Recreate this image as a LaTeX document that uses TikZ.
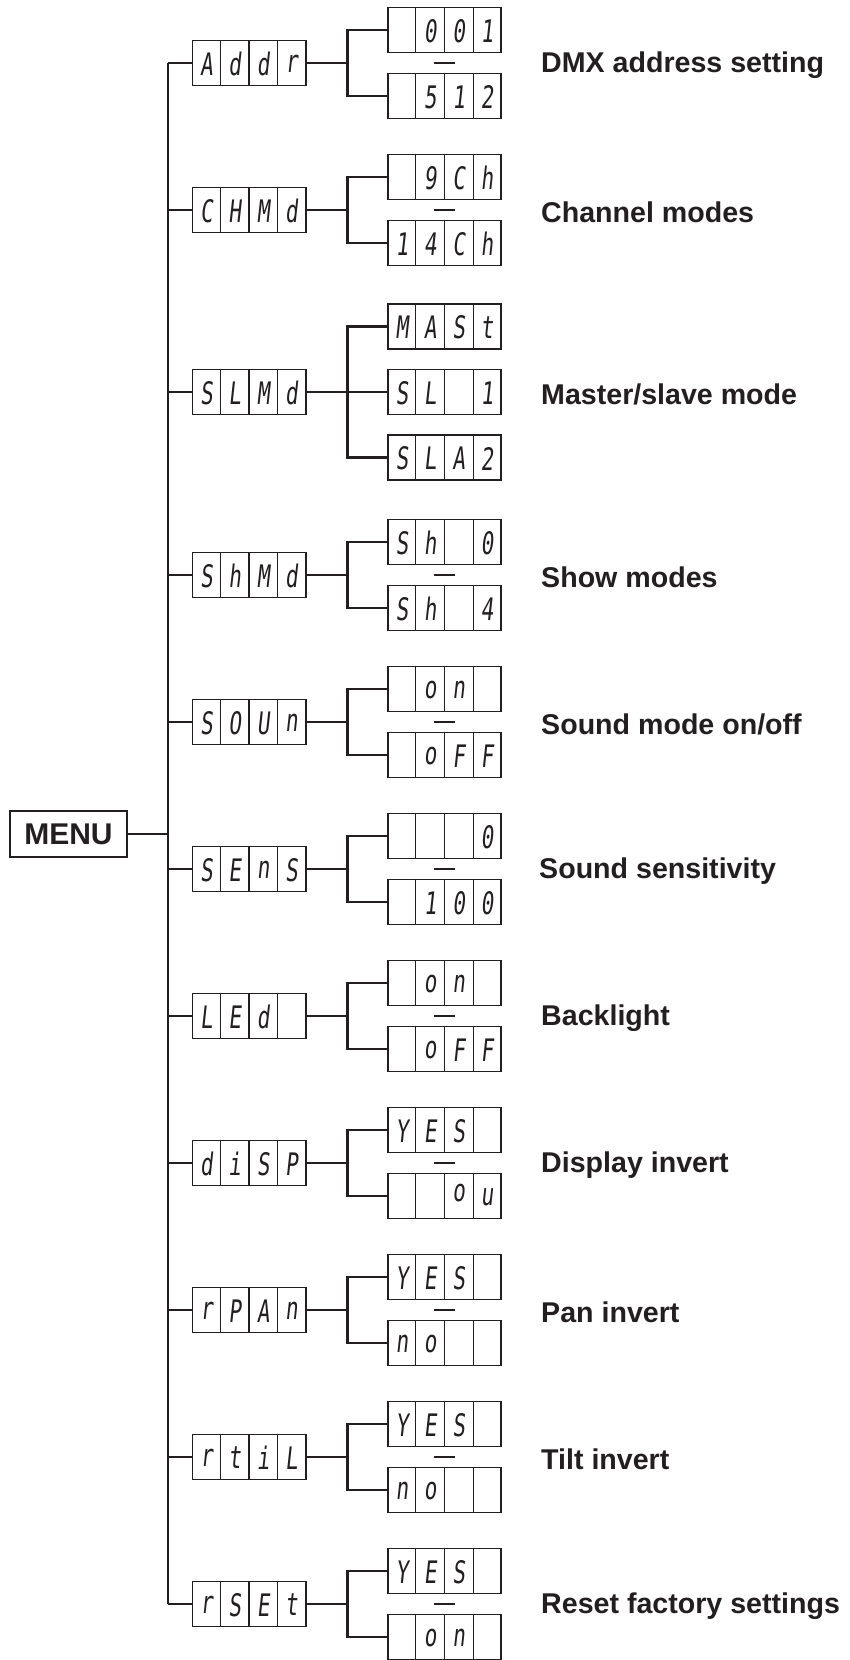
\documentclass[tikz,border=0pt]{standalone}
\usepackage{fontspec}
\setmainfont{Liberation Sans}
\newfontfamily\segfont[FakeSlant=0.16]{DejaVu Sans Mono}
\usepackage{graphicx}
\usetikzlibrary{calc}
\definecolor{ink}{HTML}{231F20}
\tikzset{
  conn/.style={draw=ink, line width=2.2pt},
  cellbox/.style={draw=ink, line width=1.6pt, rectangle, minimum width=113.4pt, minimum height=45pt, inner sep=0pt},
  cellline/.style={draw=ink, line width=1.4pt},
  segch/.style={font=\segfont\fontsize{31}{31}\selectfont, text=ink, inner sep=0pt},
  lbl/.style={font=\bfseries\fontsize{28.6}{30}\selectfont, text=ink, anchor=west, inner sep=0pt},
  menubox/.style={draw=ink, line width=1.9pt, minimum width=117pt, minimum height=46pt, inner sep=0pt, font=\bfseries\fontsize{30}{30}\selectfont, text=ink},
  dashmark/.style={draw=ink, line width=2pt}
}
% a four-cell seven-segment display: name, x, y, four characters
\newcommand\dispfour[7]{%
  \node[cellbox] (#1) at (#2,#3) {};
  \foreach \k in {1,2,3} {\draw[cellline] ($(#1.north west)!\k/4!(#1.north east)$) -- ($(#1.south west)!\k/4!(#1.south east)$);}
  \node[segch] (#1-a) at ($(#1.center)+(-42.5,1)$) {\scalebox{0.68}[1]{#4}};
  \node[segch] (#1-b) at ($(#1.center)+(-14.2,1)$) {\scalebox{0.68}[1]{#5}};
  \node[segch] (#1-c) at ($(#1.center)+(14.2,1)$) {\scalebox{0.68}[1]{#6}};
  \node[segch] (#1-d) at ($(#1.center)+(42.5,1)$) {\scalebox{0.68}[1]{#7}};
}
\newcommand\upo{\raisebox{9pt}{o}}
\begin{document}
\begin{tikzpicture}[x=1pt,y=-1pt]
\useasboundingbox (0,0) rectangle (850,1660);
% menu
\node[menubox] (menu) at (68.5,834) {MENU};
\coordinate (ttop) at (168,63);
\coordinate (tbot) at (168,1604);
\draw[conn] (ttop) -- (tbot);
\draw[conn] (menu.east) -- (menu.east -| ttop);
% level-1 displays
\dispfour{m1}{249}{63}{A}{d}{d}{r}
\dispfour{m2}{249}{210}{C}{H}{M}{d}
\dispfour{m3}{249}{392}{S}{L}{M}{d}
\dispfour{m4}{249}{575}{S}{h}{M}{d}
\dispfour{m5}{249}{722}{S}{O}{U}{n}
\dispfour{m6}{249}{869}{S}{E}{n}{S}
\dispfour{m7}{249}{1016}{L}{E}{d}{}
\dispfour{m8}{249}{1163}{d}{i}{S}{P}
\dispfour{m9}{249}{1310}{r}{P}{A}{n}
\dispfour{m10}{249}{1457}{r}{t}{i}{L}
\dispfour{m11}{249}{1604}{r}{S}{E}{t}
\foreach \i in {1,...,11} {\draw[conn] (m\i.west) -- (m\i.west -| ttop);}
% level-2 displays
\dispfour{v1a}{444.5}{30}{}{0}{0}{1}
\dispfour{v1b}{444.5}{96}{}{5}{1}{2}
\dispfour{v2a}{444.5}{177}{}{9}{C}{h}
\dispfour{v2b}{444.5}{243}{1}{4}{C}{h}
\dispfour{v3a}{444.5}{326.5}{M}{A}{S}{t}
\dispfour{v3b}{444.5}{392}{S}{L}{}{1}
\dispfour{v3c}{444.5}{457.5}{S}{L}{A}{2}
\dispfour{v4a}{444.5}{542}{S}{h}{}{0}
\dispfour{v4b}{444.5}{608}{S}{h}{}{4}
\dispfour{v5a}{444.5}{689}{}{o}{n}{}
\dispfour{v5b}{444.5}{755}{}{o}{F}{F}
\dispfour{v6a}{444.5}{836}{}{}{}{0}
\dispfour{v6b}{444.5}{902}{}{1}{0}{0}
\dispfour{v7a}{444.5}{983}{}{o}{n}{}
\dispfour{v7b}{444.5}{1049}{}{o}{F}{F}
\dispfour{v8a}{444.5}{1130}{Y}{E}{S}{}
\dispfour{v8b}{444.5}{1196}{}{}{\upo}{u}
\dispfour{v9a}{444.5}{1277}{Y}{E}{S}{}
\dispfour{v9b}{444.5}{1343}{n}{o}{}{}
\dispfour{v10a}{444.5}{1424}{Y}{E}{S}{}
\dispfour{v10b}{444.5}{1490}{n}{o}{}{}
\dispfour{v11a}{444.5}{1571}{Y}{E}{S}{}
\dispfour{v11b}{444.5}{1637}{}{o}{n}{}
% branch connectors
\foreach \i in {1,2,4,5,6,7,8,9,10,11} {
  \coordinate (b\i) at ($(m\i.east)+(41,0)$);
  \draw[conn] (m\i.east) -- (b\i);
  \draw[conn] (v\i a.west) -| (b\i) |- (v\i b.west);
  \path (v\i a.south) -- (v\i b.north) coordinate[pos=0.5] (d\i);
  \draw[dashmark] ([xshift=-10.5pt]d\i) -- ([xshift=10.5pt]d\i);
}
\coordinate (b3) at ($(m3.east)+(41,0)$);
\draw[conn] (m3.east) -- (b3);
\draw[conn] (v3a.west) -| (b3) |- (v3c.west);
\draw[conn] (b3) -- (v3b.west);
% labels
\node[lbl] (l1) at (541,65) {DMX address setting};
\node[lbl] (l2) at (541,212) {Channel modes};
\node[lbl] (l3) at (541,394) {Master/slave mode};
\node[lbl] (l4) at (541,577) {Show modes};
\node[lbl] (l5) at (541,724) {Sound mode on/off};
\node[lbl] (l6) at (539,871) {Sound sensitivity};
\node[lbl] (l7) at (541,1018) {Backlight};
\node[lbl] (l8) at (541,1165) {Display invert};
\node[lbl] (l9) at (541,1312) {Pan invert};
\node[lbl] (l10) at (541,1459) {Tilt invert};
\node[lbl] (l11) at (541,1606) {Reset factory settings};
\end{tikzpicture}
\end{document}
